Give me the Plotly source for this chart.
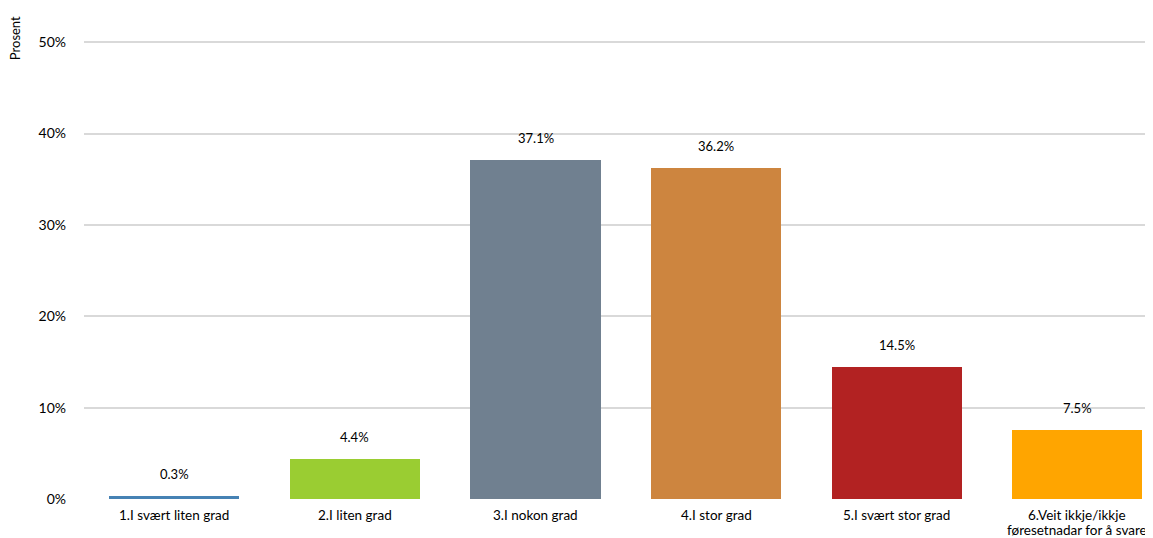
import plotly.graph_objects as go

categories = ["1.I svært liten grad", "2.I liten grad", "3.I nokon grad", "4.I stor grad",
              "5.I svært stor grad", "6.Veit ikkje/ikkje<br>føresetnadar for å svare"]
values = [0.3, 4.4, 37.1, 36.2, 14.5, 7.5]
labels = ["0.3%", "4.4%", "37.1%", "36.2%", "14.5%", "7.5%"]
colors = ["#4682B4", "#9ACD32", "#708090", "#CD853F", "#B22222", "#FFA500"]
yticks = [0, 10, 20, 30, 40, 50]
yticklabels = ["0%", "10%", "20%", "30%", "40%", "50%"]

FONT = "Lato"

fig = go.Figure()
fig.add_trace(go.Bar(
    x=list(range(len(categories))), y=values, marker=dict(color=colors, line=dict(width=0)),
    width=0.72, hoverinfo="skip",
))
for i, (v, t) in enumerate(zip(values, labels)):
    fig.add_annotation(x=i, y=v, text=t, showarrow=False, xref="x", yref="y",
                       yshift=22, font=dict(family=FONT, size=13, color="#000000"))

# category labels, one annotation per line
for i, c in enumerate(categories):
    for k, line in enumerate(c.split("<br>")):
        fig.add_annotation(x=i, xref="x", y=0, yref="paper", yanchor="middle",
                           yshift=-16 - 15 * k, text=line, showarrow=False,
                           font=dict(family=FONT, size=13.5, color="#000000"))

fig.add_annotation(x=0, xref="paper", xanchor="center", xshift=-69, y=50, yref="y",
                   yanchor="middle", yshift=4, text="Prosent", textangle=-90, showarrow=False,
                   font=dict(family=FONT, size=13, color="#000000"))

fig.update_layout(
    width=1145, height=530,
    margin=dict(l=76, r=0, t=25, b=39),
    plot_bgcolor="white", paper_bgcolor="white",
    showlegend=False,
    font=dict(family=FONT, size=13, color="#000000"),
    xaxis=dict(
        range=[-0.5, 5.419], showticklabels=False, showgrid=False, zeroline=False,
        showline=False, ticks="",
    ),
    yaxis=dict(
        range=[0, 51], tickmode="array", tickvals=yticks, ticktext=yticklabels,
        showgrid=True, gridcolor="#D9D9D9", gridwidth=2, zeroline=False, showline=False,
        ticks="", ticklabelstandoff=17, tickfont=dict(family=FONT, size=14, color="#000000"),
    ),
    bargap=0,
)

fig.write_html("out.html")
